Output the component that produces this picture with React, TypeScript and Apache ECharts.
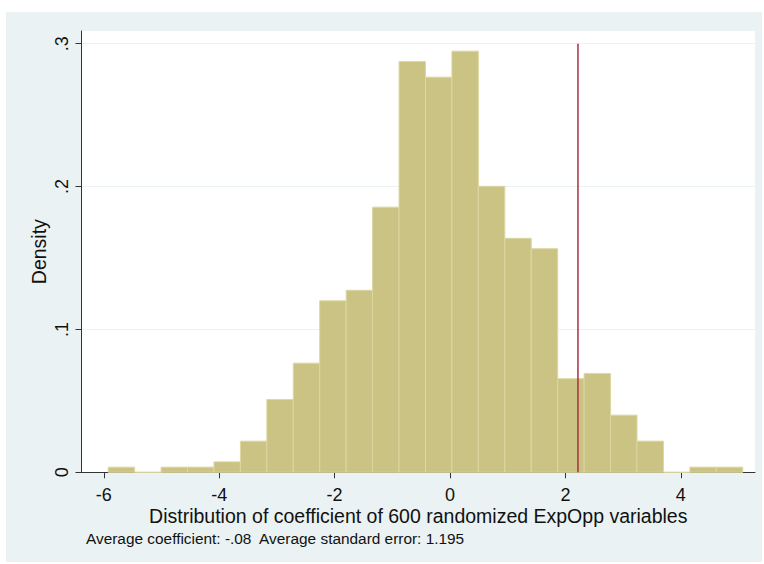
import React, { useEffect, useRef } from "react";
import * as echarts from "echarts";

// Histogram: 24 bins of coefficient estimates (600 randomized variables)
const binStart = -5.923;
const binWidth = 0.4582;
const densities = [
  0.0036, 0, 0.0036, 0.0036, 0.0073, 0.0218, 0.051, 0.0764, 0.12, 0.1274,
  0.1856, 0.2875, 0.2766, 0.2948, 0.2002, 0.1638, 0.1565, 0.0655, 0.0692,
  0.04, 0.0218, 0, 0.0036, 0.0036,
];
const actualCoef = 2.218;
const xTicks = [-6, -4, -2, 0, 2, 4];
const yTicks = [0, 0.1, 0.2, 0.3];
const xTitle = "Distribution of coefficient of 600 randomized ExpOpp variables";
const yTitle = "Density";
const noteText = "Average coefficient: -.08  Average standard error: 1.195";

const FONT = "'Liberation Sans', Arial, sans-serif";

export default function App() {
  const ref = useRef<HTMLDivElement>(null);
  useEffect(() => {
    if (!ref.current) return;
    const chart = echarts.init(ref.current, null, { renderer: "svg" });
    const bins = densities.map((d, i) => [
      binStart + i * binWidth,
      binStart + (i + 1) * binWidth,
      d,
    ]);
    const fmtY = (v: number) => {
      if (v === 0) return "0";
      return String(Math.round(v * 10) / 10).replace(/^0\./, ".");
    };
    chart.setOption({
      animation: false,
      backgroundColor: "#ffffff",
      textStyle: { fontFamily: FONT },
      graphic: [
        {
          type: "rect",
          z: -10,
          silent: true,
          shape: { x: 6, y: 12, width: 756, height: 550 },
          style: { fill: "#eaf2f3" },
        },
        {
          type: "text",
          left: 86,
          top: 531,
          style: {
            text: noteText,
            fontSize: 15.4,
            fontFamily: FONT,
            fill: "#111",
          },
        },
      ],
      grid: {
        left: 81.5,
        right: 9,
        top: 31,
        bottom: 91.7,
        show: true,
        backgroundColor: "#ffffff",
        borderWidth: 0,
      },
      xAxis: {
        type: "value",
        min: -6.386,
        max: 5.286,
        name: xTitle,
        nameLocation: "middle",
        nameGap: 34,
        nameMoveOverlap: false,
        nameTextStyle: { fontSize: 19.5, color: "#111", fontFamily: FONT },
        axisLine: { show: true, onZero: false, lineStyle: { color: "#333", width: 1 } },
        axisTick: {
          show: true,
          length: 6,
          customValues: xTicks,
          lineStyle: { color: "#333" },
        },
        axisLabel: {
          customValues: xTicks,
          fontSize: 18,
          color: "#111",
          margin: 14,
          formatter: (v: number) => String(v),
        },
        splitLine: { show: false },
      },
      yAxis: {
        type: "value",
        min: 0,
        max: 0.3089,
        name: yTitle,
        nameLocation: "middle",
        nameGap: 33,
        nameMoveOverlap: false,
        nameTextStyle: { fontSize: 19.5, color: "#111", fontFamily: FONT },
        axisLine: { show: true, onZero: false, lineStyle: { color: "#333", width: 1 } },
        axisTick: {
          show: true,
          length: 6,
          customValues: yTicks,
          lineStyle: { color: "#333" },
        },
        axisLabel: {
          customValues: yTicks,
          rotate: 90,
          fontSize: 18,
          color: "#111",
          margin: 11,
          formatter: fmtY,
        },
        splitLine: { show: true, lineStyle: { color: "#eaf2f3", width: 1 } },
      },
      series: [
        {
          type: "custom",
          data: bins,
          encode: { x: [0, 1], y: 2 },
          renderItem: (params: any, api: any) => {
            const x0 = api.value(0);
            const x1 = api.value(1);
            const y = api.value(2);
            const p0 = api.coord([x0, y]);
            const p1 = api.coord([x1, 0]);
            return {
              type: "rect",
              shape: {
                x: p0[0],
                y: p0[1],
                width: p1[0] - p0[0],
                height: p1[1] - p0[1],
              },
              style: { fill: "#cac383", stroke: "#dcd7a2", lineWidth: 1 },
            };
          },
          z: 2,
        },
        {
          type: "line",
          data: [
            [actualCoef, 0],
            [actualCoef, 0.3],
          ],
          showSymbol: false,
          symbol: "none",
          lineStyle: { color: "#a8303c", width: 1.5 },
          z: 5,
        },
      ],
    });
    return () => chart.dispose();
  }, []);
  return (
    <div
      ref={ref}
      style={{ position: "absolute", left: 0, top: 0, width: 764, height: 564 }}
    />
  );
}
